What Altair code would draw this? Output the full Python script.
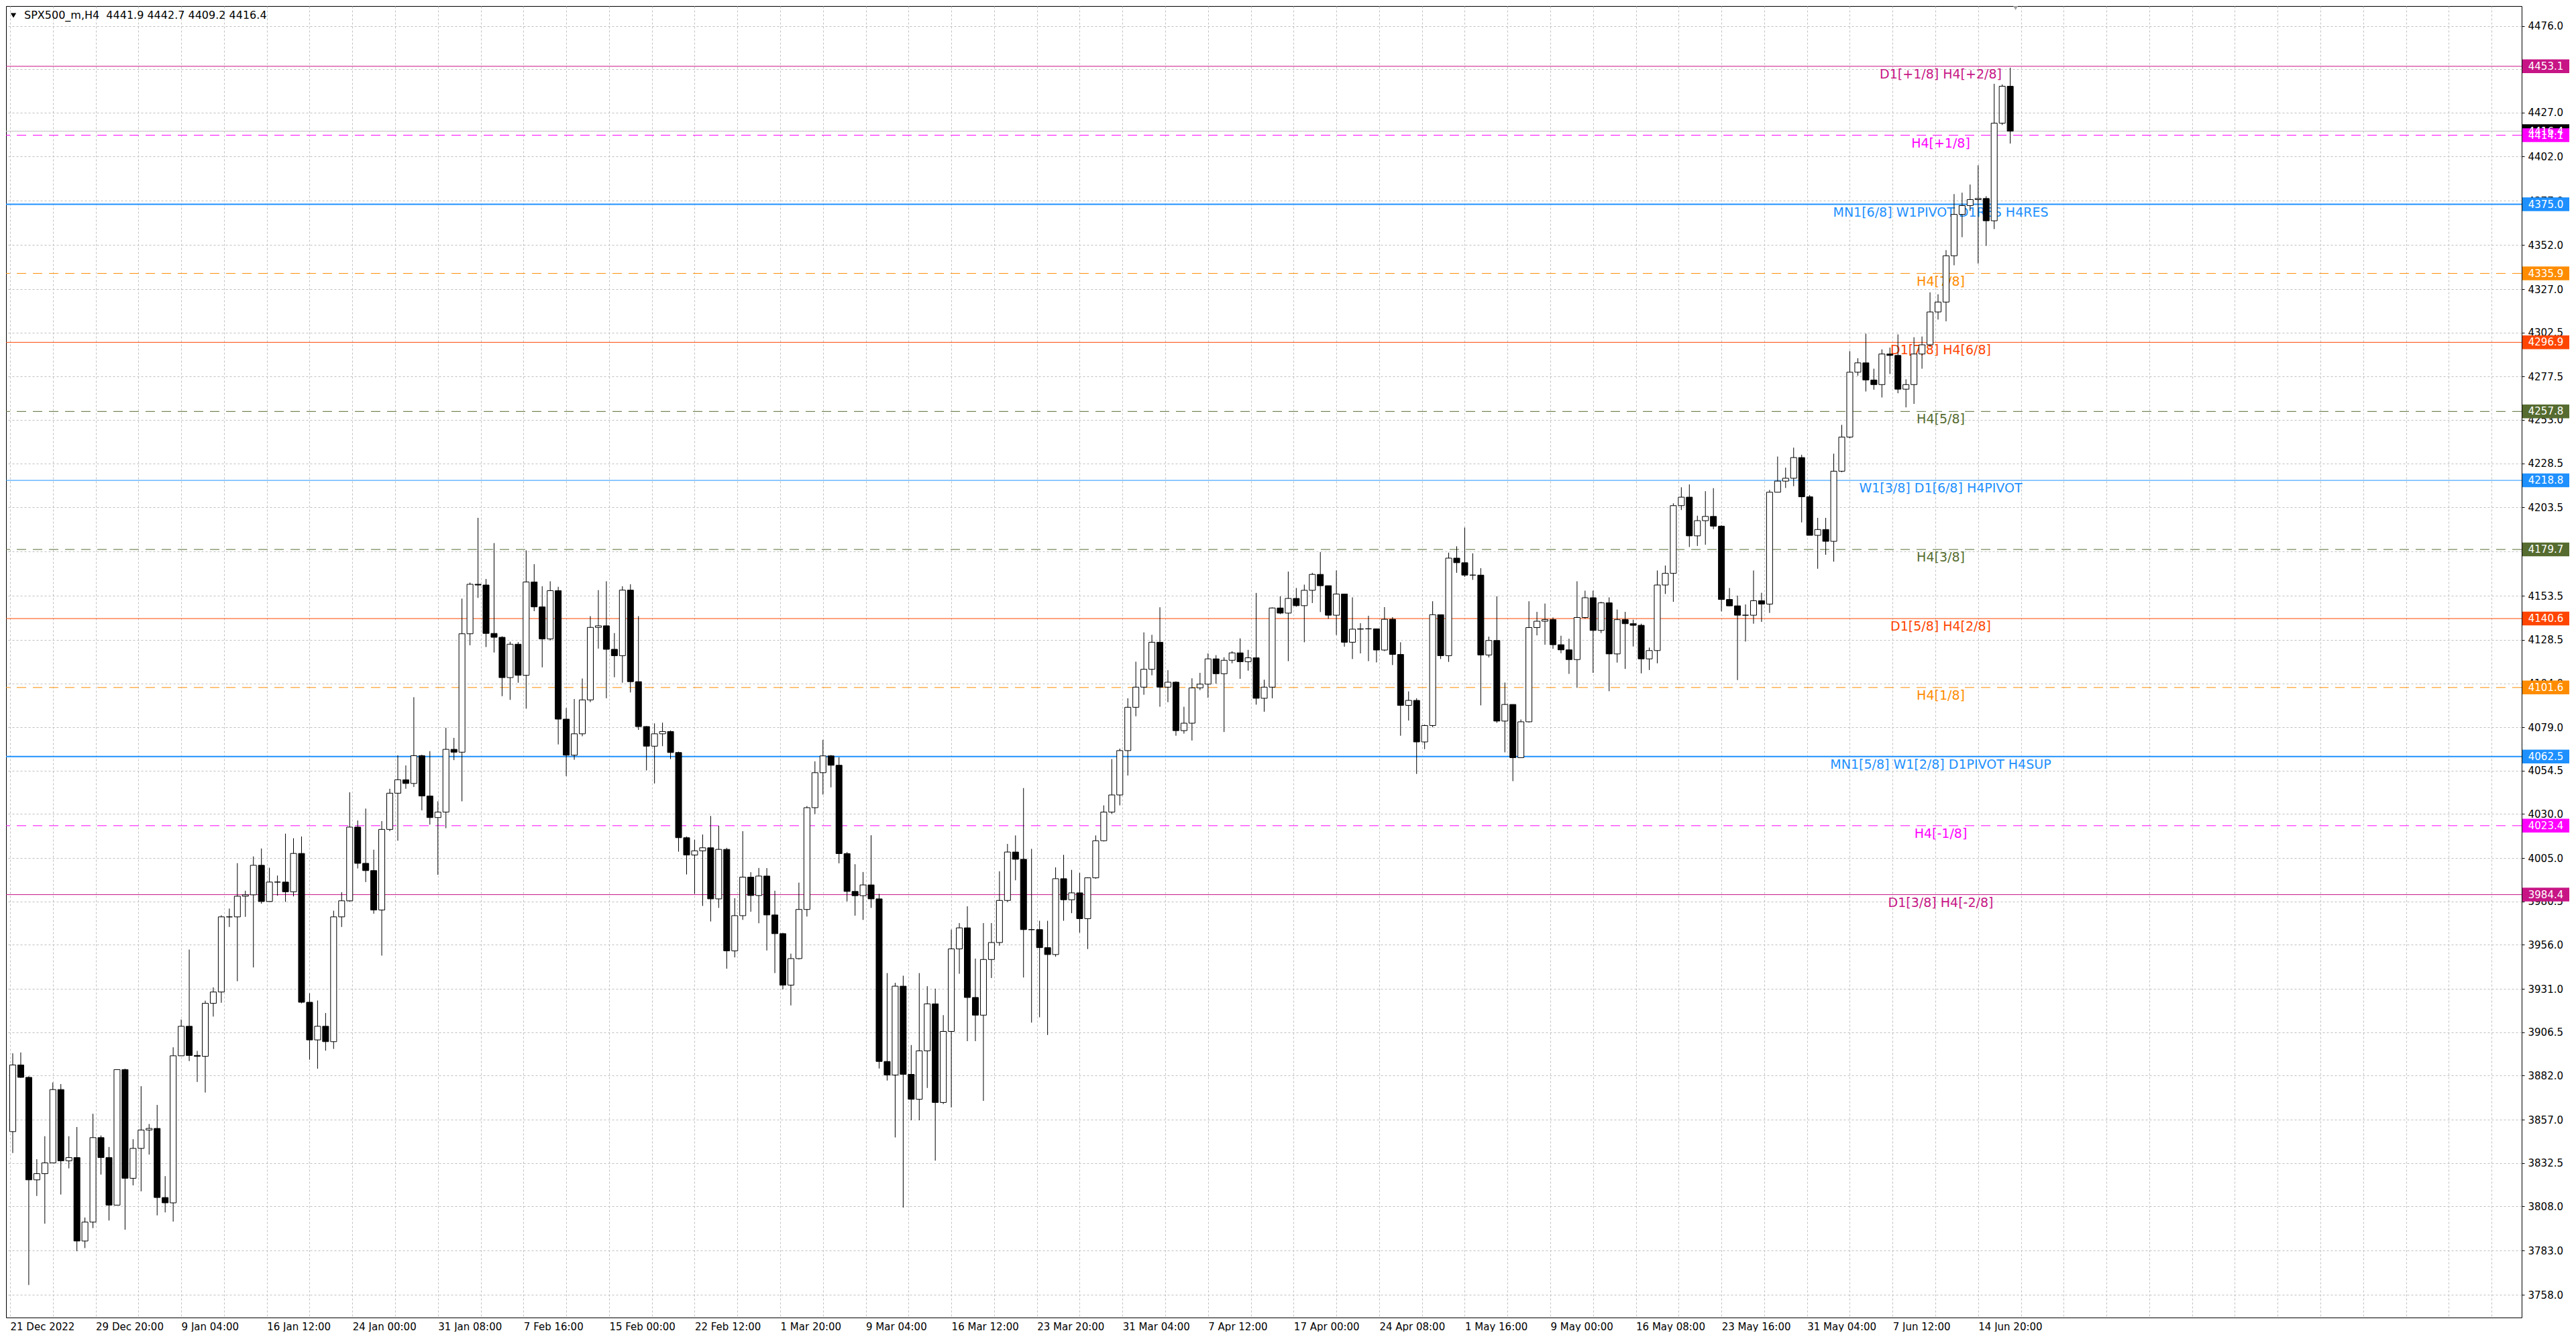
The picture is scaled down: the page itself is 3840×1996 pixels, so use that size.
import json
import altair as alt
import numpy as np
import pandas as pd

header_text = "SPX500_m,H4\u00a0\u00a04441.9 4442.7 4409.2 4416.4"

# H4 candles, three bars merged into one candle
first_open = 3850.3
highs = [
    3894.6, 3895.1, 3881.6, 3834.7, 3847.7, 3878.1, 3877.2, 3847.7, 3852.9, 3801.7,
    3860.4, 3848.1, 3841.6, 3885.4, 3885.9, 3846.0, 3876.0, 3854.6, 3865.4, 3825.1,
    3898.0, 3913.7, 3953.3, 3896.0, 3924.4, 3931.9, 3972.7, 3976.5, 4002.2, 3986.6,
    4006.0, 4010.5, 3999.6, 3995.2, 4018.9, 4016.3, 4017.3, 3928.6, 3924.5, 3917.4,
    3975.3, 3985.8, 4042.3, 4026.4, 4033.1, 4009.8, 4026.0, 4044.3, 4063.2, 4057.5,
    4096.1, 4063.6, 4065.6, 4037.2, 4078.8, 4073.1, 4151.9, 4161.0, 4197.6, 4163.0,
    4183.3, 4130.6, 4127.5, 4127.3, 4179.2, 4171.4, 4158.9, 4161.7, 4158.6, 4090.0,
    4095.1, 4106.7, 4142.0, 4156.7, 4161.7, 4132.4, 4158.9, 4160.0, 4142.0, 4079.8,
    4081.3, 4081.7, 4077.3, 4065.3, 4017.3, 4015.5, 4018.4, 4028.9, 4023.4, 4010.9,
    3982.4, 4020.3, 3997.1, 3999.5, 3999.4, 3986.6, 3962.8, 3951.0, 3991.2, 4034.5,
    4059.8, 4072.0, 4063.4, 4062.1, 4008.5, 4001.6, 3997.2, 4018.0, 3984.8, 3940.0,
    3934.5, 3938.5, 3899.3, 3940.0, 3932.6, 3931.2, 3916.2, 3964.6, 3968.3, 3977.8,
    3948.2, 3968.3, 3968.3, 3997.6, 4013.1, 4017.9, 4044.7, 4010.3, 3969.6, 3969.6,
    3999.8, 4006.9, 3998.4, 3996.7, 3994.2, 4017.9, 4034.9, 4061.1, 4067.0, 4095.5,
    4116.2, 4132.8, 4131.4, 4147.0, 4111.4, 4105.1, 4090.7, 4106.8, 4109.9, 4120.9,
    4119.9, 4118.7, 4122.1, 4129.4, 4122.9, 4155.1, 4106.0, 4146.9, 4153.2, 4167.2,
    4157.9, 4159.8, 4166.5, 4178.2, 4158.5, 4167.8, 4153.6, 4152.6, 4138.0, 4142.2,
    4134.8, 4147.1, 4141.4, 4127.2, 4099.4, 4095.5, 4080.6, 4150.4, 4139.3, 4177.9,
    4181.5, 4192.1, 4177.5, 4169.1, 4130.4, 4153.2, 4104.4, 4091.5, 4083.5, 4150.4,
    4144.4, 4149.1, 4141.2, 4130.9, 4129.2, 4161.7, 4156.4, 4156.4, 4150.1, 4152.6,
    4145.7, 4144.4, 4140.0, 4137.7, 4124.2, 4167.8, 4170.6, 4205.8, 4214.9, 4216.5,
    4198.8, 4212.7, 4214.4, 4193.4, 4157.9, 4153.6, 4148.6, 4167.8, 4155.2, 4213.4,
    4232.3, 4226.0, 4237.3, 4233.3, 4210.5, 4197.6, 4197.6, 4233.9, 4250.2, 4291.9,
    4287.9, 4301.8, 4282.0, 4292.9, 4293.9, 4301.4, 4276.0, 4299.8, 4300.2, 4325.2,
    4324.1, 4349.1, 4380.8, 4381.6, 4386.2, 4397.1, 4379.6, 4443.2, 4442.8, 4452.3,
]
lows = [
    3838.2, 3880.7, 3763.5, 3813.9, 3798.2, 3859.9, 3814.7, 3829.5, 3782.6, 3784.4,
    3795.7, 3826.0, 3800.0, 3822.5, 3794.8, 3819.9, 3816.5, 3837.3, 3802.9, 3804.6,
    3799.4, 3897.2, 3890.2, 3878.4, 3872.4, 3915.4, 3923.2, 3966.1, 3935.4, 3971.8,
    3943.2, 3979.3, 3980.3, 3983.8, 3980.3, 3983.4, 3922.9, 3891.0, 3885.9, 3896.1,
    3897.1, 3966.1, 3980.3, 3999.2, 3991.5, 3973.6, 3949.9, 4020.3, 4014.9, 4044.3,
    4045.3, 4032.1, 4024.0, 3995.6, 4022.0, 4060.5, 4037.2, 4125.5, 4152.3, 4124.5,
    4121.4, 4096.7, 4094.6, 4104.3, 4089.6, 4144.8, 4113.0, 4128.2, 4069.4, 4051.5,
    4060.7, 4074.0, 4093.3, 4123.6, 4095.5, 4107.4, 4104.3, 4098.8, 4077.6, 4054.7,
    4047.3, 4068.4, 4061.1, 4008.7, 3995.8, 3984.8, 3978.0, 3969.2, 3976.9, 3942.5,
    3948.9, 3970.1, 3974.7, 3968.2, 3952.8, 3940.0, 3930.8, 3921.7, 3947.7, 3972.0,
    4030.0, 4041.0, 4045.1, 4002.1, 3980.6, 3972.5, 3970.1, 3976.9, 3886.0, 3879.2,
    3847.0, 3807.3, 3856.7, 3856.7, 3875.0, 3833.9, 3865.9, 3864.0, 3939.6, 3901.5,
    3901.5, 3867.7, 3937.2, 3955.5, 3980.2, 3992.5, 3937.5, 3912.0, 3915.0, 3905.0,
    3949.3, 3969.6, 3973.9, 3962.9, 3953.6, 3993.4, 4014.5, 4030.1, 4034.9, 4051.8,
    4085.3, 4097.5, 4108.5, 4090.7, 4093.3, 4074.3, 4075.5, 4071.6, 4100.1, 4095.8,
    4103.8, 4076.4, 4115.3, 4106.5, 4111.1, 4091.9, 4087.9, 4095.5, 4143.1, 4116.5,
    4147.3, 4127.2, 4149.4, 4144.3, 4140.5, 4131.3, 4124.7, 4117.7, 4120.9, 4116.5,
    4115.8, 4122.2, 4114.3, 4074.3, 4082.9, 4052.7, 4066.7, 4079.1, 4117.7, 4116.1,
    4166.5, 4164.2, 4162.5, 4091.5, 4118.6, 4081.6, 4064.9, 4048.6, 4064.7, 4081.8,
    4131.1, 4125.8, 4123.5, 4121.0, 4109.3, 4101.4, 4140.6, 4109.9, 4132.4, 4099.5,
    4115.7, 4112.1, 4124.8, 4109.6, 4111.5, 4115.3, 4154.5, 4150.1, 4202.0, 4181.1,
    4181.7, 4182.4, 4191.2, 4144.7, 4147.6, 4105.8, 4127.6, 4137.7, 4138.7, 4143.8,
    4216.1, 4214.5, 4215.5, 4195.0, 4187.7, 4168.8, 4176.7, 4172.8, 4223.4, 4242.7,
    4278.0, 4269.1, 4270.1, 4265.7, 4279.0, 4268.1, 4260.1, 4262.1, 4282.0, 4294.3,
    4309.8, 4308.8, 4340.5, 4356.4, 4371.3, 4341.5, 4351.5, 4361.0, 4419.9, 4409.4,
]
closes = [
    3888.0, 3881.0, 3823.0, 3826.5, 3832.6, 3874.1, 3833.8, 3835.6, 3788.4, 3799.1,
    3846.9, 3835.6, 3808.7, 3885.4, 3823.9, 3840.8, 3851.2, 3852.1, 3813.0, 3810.0,
    3893.2, 3909.9, 3893.4, 3892.9, 3922.9, 3929.3, 3971.8, 3971.8, 3983.5, 3984.3,
    4001.0, 3980.5, 3991.5, 3991.5, 3986.0, 4007.7, 3923.5, 3902.2, 3909.9, 3901.2,
    3971.8, 3980.9, 4022.6, 4002.1, 3998.0, 3975.7, 4021.3, 4041.8, 4049.4, 4047.3,
    4063.0, 4040.2, 4028.0, 4031.1, 4066.6, 4065.0, 4132.0, 4160.0, 4159.6, 4132.2,
    4130.0, 4107.2, 4126.1, 4108.5, 4161.3, 4147.2, 4129.1, 4156.4, 4083.7, 4063.3,
    4075.4, 4094.6, 4135.6, 4136.5, 4123.2, 4119.6, 4156.7, 4104.9, 4079.5, 4068.4,
    4075.4, 4076.7, 4064.8, 4016.6, 4006.8, 4009.2, 4010.9, 3982.0, 4010.0, 3952.6,
    3972.5, 3994.3, 3983.9, 3994.9, 3972.9, 3962.3, 3933.2, 3948.2, 3976.0, 4033.6,
    4053.4, 4062.9, 4057.6, 4007.6, 3986.2, 3983.8, 3989.9, 3982.0, 3890.0, 3882.3,
    3932.6, 3882.7, 3868.6, 3896.0, 3922.6, 3866.8, 3907.0, 3953.7, 3965.6, 3926.2,
    3916.2, 3947.7, 3957.3, 3981.1, 4008.5, 4004.4, 3964.6, 3964.6, 3954.4, 3950.5,
    3993.4, 3981.5, 3985.4, 3970.8, 3993.9, 4014.9, 4031.1, 4040.8, 4065.9, 4090.4,
    4101.8, 4111.9, 4127.2, 4101.8, 4104.6, 4077.2, 4081.4, 4101.4, 4103.5, 4117.8,
    4109.4, 4117.0, 4121.2, 4116.2, 4118.4, 4095.5, 4101.8, 4146.6, 4143.7, 4152.0,
    4147.9, 4156.6, 4165.6, 4159.2, 4142.5, 4154.5, 4127.2, 4134.6, 4134.8, 4134.8,
    4122.8, 4140.2, 4120.3, 4091.5, 4094.3, 4070.8, 4080.1, 4142.8, 4119.6, 4174.8,
    4172.2, 4165.2, 4165.2, 4120.0, 4128.2, 4082.6, 4092.0, 4061.9, 4082.2, 4135.5,
    4139.1, 4140.0, 4125.8, 4122.9, 4117.4, 4141.2, 4152.4, 4133.9, 4149.5, 4120.6,
    4140.0, 4137.7, 4136.8, 4117.8, 4122.5, 4159.6, 4166.2, 4204.5, 4209.3, 4187.4,
    4196.0, 4198.4, 4192.9, 4151.4, 4147.8, 4142.5, 4142.5, 4150.7, 4148.8, 4212.1,
    4218.4, 4220.0, 4231.7, 4209.5, 4187.7, 4191.0, 4184.3, 4224.0, 4243.3, 4280.0,
    4285.3, 4275.6, 4273.0, 4290.3, 4289.5, 4270.4, 4273.0, 4290.3, 4295.5, 4314.1,
    4319.7, 4345.9, 4369.3, 4374.3, 4377.7, 4378.3, 4365.7, 4420.9, 4441.8, 4416.4,
]

# levels drawn by the indicator
level_prices = [4453.1, 4414.1, 4375.0, 4335.9, 4296.9, 4257.8, 4218.8,
                4179.7, 4140.6, 4101.6, 4062.5, 4023.4, 3984.4]
level_names = ["D1[+1/8] H4[+2/8]", "H4[+1/8]", "MN1[6/8] W1PIVOT D1RES H4RES",
               "H4[7/8]", "D1[7/8] H4[6/8]", "H4[5/8]", "W1[3/8] D1[6/8] H4PIVOT",
               "H4[3/8]", "D1[5/8] H4[2/8]", "H4[1/8]", "MN1[5/8] W1[2/8] D1PIVOT H4SUP",
               "H4[-1/8]", "D1[3/8] H4[-2/8]"]
bid_price = 4416.4

price_ticks = [4476.0, 4451.5, 4427.0, 4402.0, 4377.0, 4352.0, 4327.0, 4302.5,
               4277.5, 4253.0, 4228.5, 4203.5, 4178.5, 4153.5, 4128.5, 4104.0,
               4079.0, 4054.5, 4030.0, 4005.0, 3980.5, 3956.0, 3931.0, 3906.5,
               3882.0, 3857.0, 3832.5, 3808.0, 3783.0, 3758.0]
time_labels = ["21 Dec 2022", "29 Dec 20:00", "9 Jan 04:00", "16 Jan 12:00",
               "24 Jan 00:00", "31 Jan 08:00", "7 Feb 16:00", "15 Feb 00:00",
               "22 Feb 12:00", "1 Mar 20:00", "9 Mar 04:00", "16 Mar 12:00",
               "23 Mar 20:00", "31 Mar 04:00", "7 Apr 12:00", "17 Apr 00:00",
               "24 Apr 08:00", "1 May 16:00", "9 May 00:00", "16 May 08:00",
               "23 May 16:00", "31 May 04:00", "7 Jun 12:00", "14 Jun 20:00"]

# styles
level_colors = ["#C71585", "#FF00FF", "#1E90FF", "#FF8C00", "#FF4500", "#556B2F", "#1E90FF",
                "#556B2F", "#FF4500", "#FF8C00", "#1E90FF", "#FF00FF", "#C71585"]
level_dashed = [False, True, False, True, False, True, False, True, False, True, False, True, False]
level_widths = [1, 1, 2, 1, 1, 1, 1, 1, 1, 1, 2, 1, 1]
FONT = "DejaVu Sans"
W, H = 3750, 1955
BARS_PER_CANDLE = 3
BOX_HALF = 3.9  # half height of the price boxes, in price units

# candles
opens = [first_open] + closes[:-1]
candles = pd.DataFrame({
    "bar": [BARS_PER_CANDLE * i + 1 for i in range(len(closes))],
    "open": opens, "high": highs, "low": lows, "close": closes,
})
candles["high"] = candles[["high", "open", "close"]].max(axis=1)
candles["low"] = candles[["low", "open", "close"]].min(axis=1)
candles["dir"] = np.where(candles["close"] >= candles["open"], "up", "down")

levels = pd.DataFrame({
    "price": level_prices, "name": level_names, "color": level_colors,
    "dashed": level_dashed, "w": level_widths,
})

boxes = pd.DataFrame({
    "price": [bid_price] + level_prices,
    "color": ["#000000"] + level_colors,
})
boxes["label"] = boxes["price"].map(lambda p: f"{p:.1f}")
boxes["top"] = boxes["price"] + BOX_HALF
boxes["bot"] = boxes["price"] - BOX_HALF

# scales and axes
x_scale = alt.Scale(domain=[-0.25, 938.0], nice=False, zero=False)
y_scale = alt.Scale(domain=[3745.1, 4487.2], nice=False, zero=False)
label_expr = ("datum.value % 32 == 0 && datum.value <= 736 ? "
              + json.dumps(time_labels) + "[datum.value / 32] : ''")
x_axis = alt.Axis(values=list(range(0, 929, 16)), grid=True, gridColor="#C0C0C0",
                  gridDash=[3, 3], ticks=False, domain=False, labelExpr=label_expr,
                  labelAlign="left", labelFlush=False, labelOverlap=False,
                  labelPadding=6, labelFontSize=15, labelFont=FONT,
                  labelColor="black", title=None)
y_axis = alt.Axis(orient="right", values=price_ticks, format=".1f", grid=True,
                  gridColor="#C0C0C0", gridDash=[3, 3], domain=False,
                  ticks=True, tickColor="black", tickSize=4, labelPadding=5,
                  labelFontSize=15, labelFont=FONT, labelColor="black", title=None)


def Y(field):
    return alt.Y(field, type="quantitative", scale=y_scale, axis=y_axis)


def X(field):
    return alt.X(field, type="quantitative", scale=x_scale, axis=x_axis)


solid_rules = alt.Chart(levels).transform_filter("!datum.dashed").mark_rule().encode(
    y=Y("price"),
    color=alt.Color("color:N", scale=None),
    strokeWidth=alt.StrokeWidth("w:Q", scale=None),
)
dashed_rules = alt.Chart(levels).transform_filter("datum.dashed").mark_rule(
    strokeDash=[14, 10]).encode(
    y=Y("price"),
    color=alt.Color("color:N", scale=None),
    strokeWidth=alt.StrokeWidth("w:Q", scale=None),
)
bid_rule = alt.Chart(pd.DataFrame({"price": [bid_price]})).mark_rule(
    color="#C0C0C0", strokeWidth=1).encode(y=Y("price"))

level_text = alt.Chart(levels).mark_text(
    font=FONT, fontSize=19, align="center", baseline="top", dy=3).encode(
    x=alt.XDatum(722, type="quantitative", scale=x_scale, axis=x_axis),
    y=Y("price"),
    text="name:N",
    color=alt.Color("color:N", scale=None),
)

wicks = alt.Chart(candles).mark_rule(color="black", strokeWidth=1).encode(
    x=X("bar"), y=Y("low"), y2="high")
bodies = alt.Chart(candles).mark_bar(size=9, stroke="black", strokeWidth=1).encode(
    x=X("bar"), y=Y("open"), y2="close",
    fill=alt.Fill("dir:N", scale=alt.Scale(domain=["up", "down"],
                                           range=["#FFFFFF", "#000000"]), legend=None),
)

box_rects = alt.Chart(boxes).mark_rect().encode(
    x=alt.value(W + 1), x2=alt.value(W + 71),
    y=Y("top"), y2="bot",
    color=alt.Color("color:N", scale=None),
)
box_text = alt.Chart(boxes).mark_text(
    font=FONT, fontSize=15, color="white", align="center", baseline="middle").encode(
    x=alt.value(W + 36), y=Y("price"), text="label:N")

head = pd.DataFrame({"t": [header_text]})
head_text = alt.Chart(head).mark_text(
    font=FONT, fontSize=16, align="left", baseline="middle", color="black").encode(
    x=alt.value(27), y=alt.value(14), text="t:N")
head_arrow = alt.Chart(head).mark_point(
    shape="triangle-down", filled=True, color="black", size=70, opacity=1).encode(
    x=alt.value(11), y=alt.value(14))
shift_mark = alt.Chart(head).mark_point(
    shape="triangle-down", filled=True, color="#A0A0A0", size=50, opacity=1).encode(
    x=alt.XDatum(750, type="quantitative", scale=x_scale, axis=x_axis),
    y=alt.value(3))

chart = alt.layer(
    solid_rules, dashed_rules, bid_rule, level_text,
    wicks, bodies, box_rects, box_text, head_text, head_arrow, shift_mark,
).properties(
    width=W, height=H, padding=0, background="white",
).configure_view(
    stroke="black", strokeWidth=1,
)

chart.save("out.html", embed_options={"renderer": "svg", "actions": False})
